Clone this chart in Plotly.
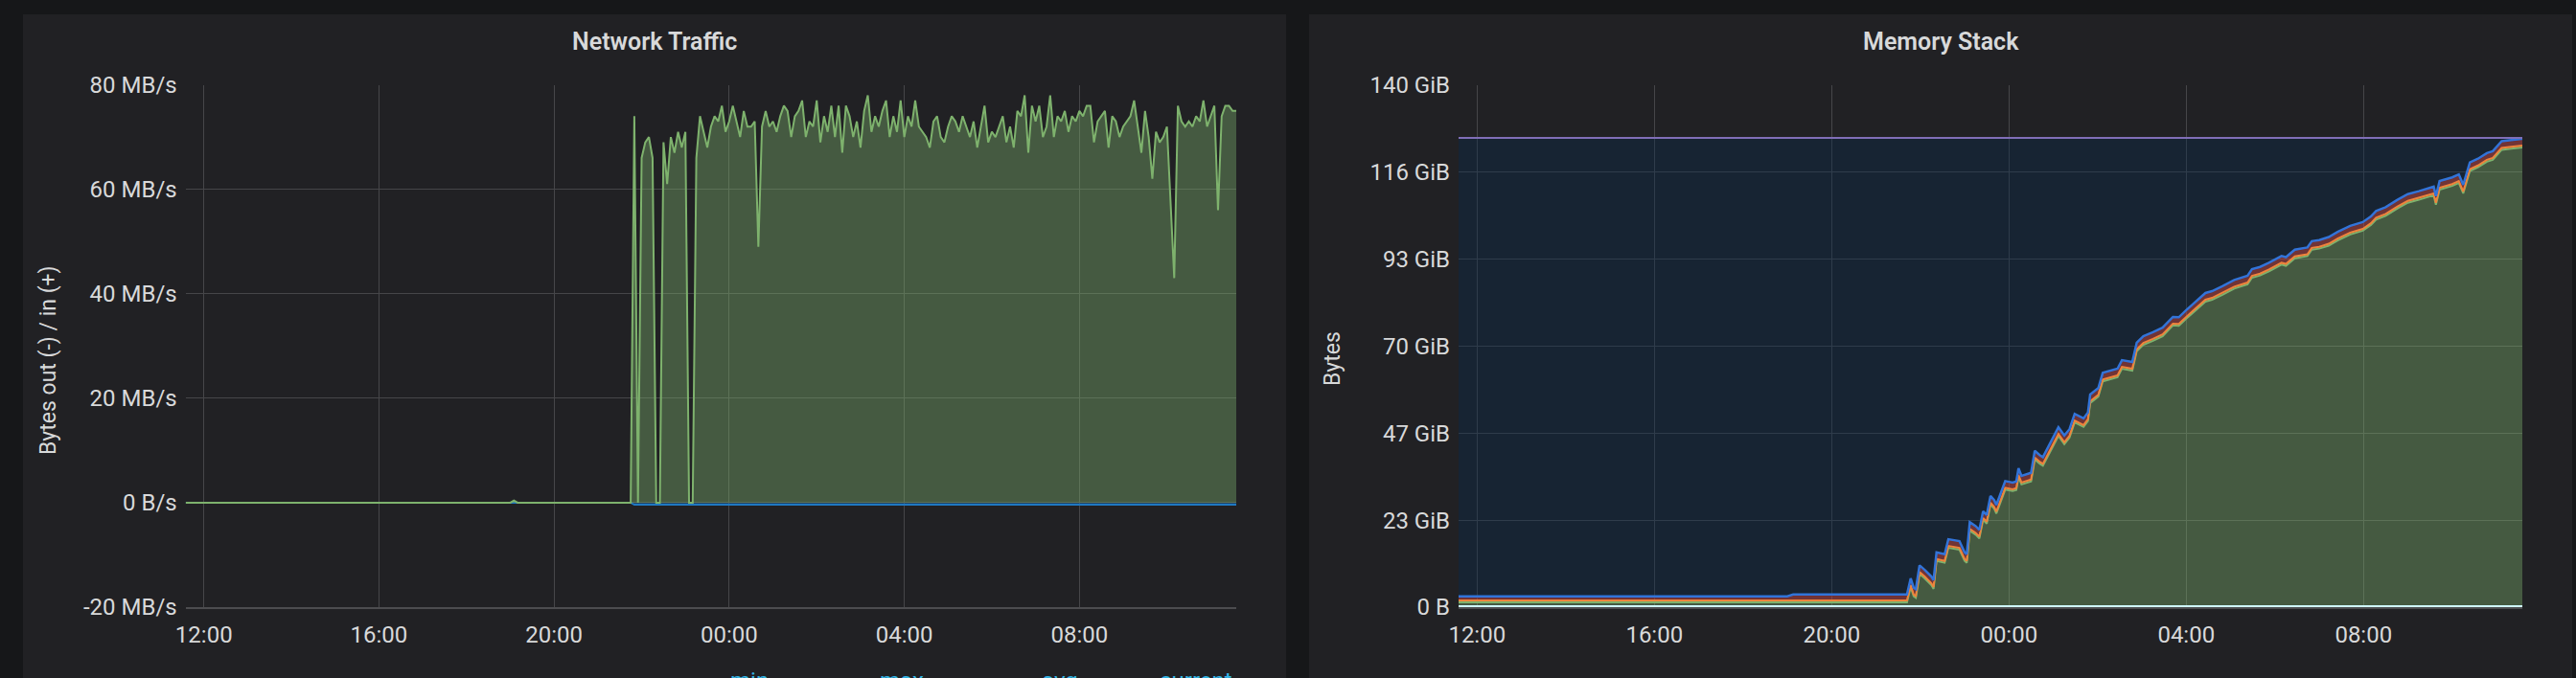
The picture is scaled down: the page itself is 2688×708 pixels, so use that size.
import numpy as np
import pandas as pd
import plotly.graph_objects as go

# ---------------- data ----------------
D1 = "2019-03-05"
D2 = "2019-03-06"
x_start = D1 + " 11:35"
x_end = D2 + " 11:35"

# Network Traffic (MB/s) - inbound, 5-minute samples from 21:45 to 11:35
net_pre_times = [D1 + " 11:35", D1 + " 19:00", D1 + " 19:05", D1 + " 19:10"]
net_pre_in = [0, 0, 0.4, 0]
net_in = [
    0, 74, 0, 66, 69, 70, 66, 0, 0, 69, 61, 70, 67, 71, 68, 71, 0, 0, 66, 74,
    71, 68, 72, 74, 73, 76, 71, 73, 76, 73, 70, 75, 72, 72, 73, 49, 72, 75, 72, 73,
    71, 74, 76, 75, 70, 74, 75, 77, 70, 73, 72, 77, 69, 74, 71, 76, 70, 76, 67, 76,
    74, 70, 73, 68, 75, 78, 71, 74, 72, 75, 77, 70, 74, 71, 77, 70, 74, 72, 77, 72,
    71, 70, 68, 73, 74, 70, 69, 72, 74, 73, 71, 74, 72, 70, 73, 68, 72, 76, 69, 71,
    70, 72, 74, 69, 72, 68, 75, 74, 78, 67, 76, 73, 76, 70, 72, 78, 70, 74, 73, 75,
    71, 74, 73, 75, 74, 76, 76, 69, 73, 74, 75, 68, 74, 73, 70, 72, 73, 74, 77, 72,
    67, 75, 70, 62, 71, 69, 70, 72, 58, 43, 76, 73, 72, 73, 72, 74, 73, 77, 72, 74,
    76, 56, 74, 76, 76, 75, 75,
]
net_out_times = [D1 + " 11:35", D1 + " 21:45", D1 + " 21:50", D2 + " 11:35"]
net_out = [0, 0, -0.4, -0.4]

# Memory Stack (GiB)
mem_clock = [
    "11:35", "19:00", "19:08", "21:42", "21:47", "21:51", "21:54", "21:59", "22:06", "22:15",
    "22:18", "22:22", "22:33", "22:38", "22:53", "23:00", "23:03", "23:07", "23:15", "23:20",
    "23:25", "23:30", "23:35", "23:40", "23:43", "23:55",
    "00:05", "00:10", "00:13", "00:17", "00:30", "00:35", "00:42", "00:46", "01:07", "01:12",
    "01:15", "01:22", "01:29", "01:41", "01:47", "01:50", "02:01", "02:07", "02:15", "02:27",
    "02:33", "02:47", "02:53", "03:02", "03:15", "03:28", "03:42", "03:50", "04:00", "04:15",
    "04:26", "04:35", "04:49", "05:05", "05:23", "05:29", "05:40", "05:52", "06:09", "06:15",
    "06:27", "06:44", "06:50", "07:00", "07:13", "07:25", "07:42", "07:59", "08:10", "08:17",
    "08:30", "08:46", "09:00", "09:15", "09:26", "09:35", "09:38", "09:43", "10:00", "10:09",
    "10:15", "10:24", "10:35", "10:47", "10:55", "11:07", "11:20", "11:35",
]
mem_day = [D1] * 26 + [D2] * 68
mem_apps = [
    1.05, 1.05, 1.05, 1.05, 5.15, 2.65, 2.25, 8.65, 7.45, 5.65,
    4.65, 12.15, 11.65, 15.65, 15.15, 12.15, 11.65, 20.25, 19.15, 18.15,
    23.15, 22.15, 27.25, 26.15, 24.85, 31.25,
    30.85, 31.15, 34.65, 32.65, 33.45, 39.35, 38.15, 37.65, 45.65, 44.15,
    43.45, 45.15, 49.25, 48.05, 49.65, 54.45, 56.15, 60.25, 60.65, 61.35,
    63.65, 63.15, 68.35, 70.05, 71.15, 72.35, 75.25, 75.15, 77.05, 79.65,
    81.65, 82.15, 83.45, 85.15, 86.25, 88.05, 88.65, 89.75, 91.55, 91.25,
    93.25, 93.85, 95.55, 95.85, 96.65, 98.05, 99.65, 100.65, 102.15, 103.65,
    104.65, 106.65, 108.15, 108.95, 109.65, 110.15, 107.65, 111.65, 112.65, 113.45,
    110.65, 116.65, 117.65, 119.15, 119.65, 122.35, 122.65, 122.95,
]
mem_slab = [
    0.25, 0.25, 0.25, 0.25, 0.25, 0.25, 0.25, 0.25, 0.25, 0.25,
    0.25, 0.25, 0.25, 0.25, 0.25, 0.25, 0.25, 0.25, 0.25, 0.25,
    0.25, 0.25, 0.25, 0.25, 0.25, 0.25,
    0.25, 0.25, 0.25, 0.25, 0.25, 0.25, 0.25, 0.25, 0.25, 0.25,
    0.25, 0.25, 0.25, 0.25, 0.25, 0.25, 0.25, 0.25, 0.25, 0.25,
    0.25, 0.25, 0.25, 0.25, 0.25, 0.25, 0.25, 0.25, 0.25, 0.25,
    0.25, 0.25, 0.25, 0.25, 0.25, 0.25, 0.25, 0.25, 0.25, 0.25,
    0.25, 0.25, 0.25, 0.25, 0.25, 0.25, 0.25, 0.25, 0.25, 0.25,
    0.25, 0.25, 0.25, 0.25, 0.25, 0.25, 0.25, 0.25, 0.25, 0.25,
    0.25, 0.25, 0.25, 0.25, 0.25, 0.25, 0.25, 0.25,
]
mem_cached = [
    0.5, 0.5, 0.5, 0.5, 0.5, 0.5, 0.5, 0.5, 0.5, 0.5,
    0.5, 0.5, 0.5, 0.5, 0.5, 0.5, 0.5, 0.5, 0.5, 0.5,
    0.5, 0.5, 0.5, 0.5, 0.5, 0.5,
    0.5, 0.5, 0.5, 0.5, 0.5, 0.5, 0.5, 0.5, 0.5, 0.5,
    0.5, 0.5, 0.5, 0.5, 0.5, 0.5, 0.5, 0.5, 0.5, 0.5,
    0.5, 0.5, 0.5, 0.5, 0.5, 0.5, 0.5, 0.5, 0.5, 0.5,
    0.5, 0.5, 0.5, 0.5, 0.5, 0.5, 0.5, 0.5, 0.5, 0.5,
    0.5, 0.5, 0.5, 0.5, 0.5, 0.5, 0.5, 0.5, 0.5, 0.5,
    0.5, 0.5, 0.5, 0.5, 0.5, 0.5, 0.5, 0.5, 0.5, 0.5,
    0.5, 0.5, 0.5, 0.5, 0.5, 0.5, 0.5, 0.5,
]
mem_buffers = [
    0.8, 0.8, 1.3, 1.3, 1.5, 1.5, 1.5, 1.5, 1.5, 1.5,
    1.5, 1.5, 1.5, 1.5, 1.5, 1.5, 1.5, 1.5, 1.5, 1.5,
    1.5, 1.5, 1.5, 1.5, 1.5, 1.5,
    1.5, 1.5, 1.5, 1.5, 1.5, 1.5, 1.5, 1.5, 1.5, 1.5,
    1.5, 1.5, 1.5, 1.5, 1.5, 1.5, 1.5, 1.5, 1.5, 1.5,
    1.5, 1.5, 1.5, 1.5, 1.5, 1.5, 1.5, 1.5, 1.5, 1.5,
    1.5, 1.5, 1.5, 1.5, 1.5, 1.5, 1.5, 1.5, 1.5, 1.5,
    1.5, 1.5, 1.5, 1.5, 1.5, 1.5, 1.5, 1.5, 1.5, 1.5,
    1.5, 1.5, 1.5, 1.5, 1.5, 1.5, 1.5, 1.5, 1.5, 1.5,
    1.5, 1.5, 1.5, 1.5, 1.5, 1.5, 1.5, 1.5,
]
mem_swap = [
    0.3, 0.3, 0.3, 0.3, 0.3, 0.3, 0.3, 0.3, 0.3, 0.3,
    0.3, 0.3, 0.3, 0.3, 0.3, 0.3, 0.3, 0.3, 0.3, 0.3,
    0.3, 0.3, 0.3, 0.3, 0.3, 0.3,
    0.3, 0.3, 0.3, 0.3, 0.3, 0.3, 0.3, 0.3, 0.3, 0.3,
    0.3, 0.3, 0.3, 0.3, 0.3, 0.3, 0.3, 0.3, 0.3, 0.3,
    0.3, 0.3, 0.3, 0.3, 0.3, 0.3, 0.3, 0.3, 0.3, 0.3,
    0.3, 0.3, 0.3, 0.3, 0.3, 0.3, 0.3, 0.3, 0.3, 0.3,
    0.3, 0.3, 0.3, 0.3, 0.3, 0.3, 0.3, 0.3, 0.3, 0.3,
    0.3, 0.3, 0.3, 0.3, 0.3, 0.3, 0.3, 0.3, 0.3, 0.3,
    0.3, 0.3, 0.3, 0.3, 0.3, 0.3, 0.3, 0.3,
]
mem_total_gib = 125.8

net_ticks = [-20, 0, 20, 40, 60, 80]
net_ticktext = ["-20 MB/s", "0 B/s", "20 MB/s", "40 MB/s", "60 MB/s", "80 MB/s"]
mem_ticks = [0, 140 / 6, 280 / 6, 70, 560 / 6, 700 / 6, 140]
mem_ticktext = ["0 B", "23 GiB", "47 GiB", "70 GiB", "93 GiB", "116 GiB", "140 GiB"]
legend_headers = ["min", "max", "avg", "current"]

# ---------------- build ----------------
W, H = 2688, 708
BG = "#161719"
PANEL = "#212124"
GRID = "#464649"
TXT = "#d8d9da"
FONT = "Roboto"


def px_x(p):
    return p / W


def px_y(p):
    return 1 - p / H


net_times = net_pre_times + [
    t.strftime("%Y-%m-%d %H:%M")
    for t in pd.date_range(D1 + " 21:45", D2 + " 11:35", freq="5min")
]
net_vals = net_pre_in + net_in

mem_times = [d + " " + c for d, c in zip(mem_day, mem_clock)]
stack_sum = (np.array(mem_slab) + np.array(mem_apps) + np.array(mem_cached)
             + np.array(mem_buffers) + np.array(mem_swap))
mem_free = np.clip(mem_total_gib - stack_sum, 0, None)

fig = go.Figure()

# ---- Network Traffic ----
fig.add_trace(go.Scatter(
    x=net_out_times, y=net_out, mode="lines", name="out",
    line=dict(color="#1f78c1", width=2), fill="tozeroy",
    fillcolor="rgba(31,120,193,0.4)", xaxis="x", yaxis="y",
))
fig.add_trace(go.Scatter(
    x=net_times, y=net_vals, mode="lines", name="in",
    line=dict(color="#7eb26d", width=2), fill="tozeroy",
    fillcolor="rgba(126,178,109,0.4)", xaxis="x", yaxis="y",
))

# ---- Memory Stack ----
layers = [
    ("Slab", mem_slab, "#cffaff", "rgba(207,250,255,0.3)", 2),
    ("Apps", mem_apps, "#7eb26d", "rgba(126,178,109,0.4)", 2),
    ("Cache", mem_cached, "#ef843c", "rgba(239,132,60,0.45)", 2),
    ("Buffers", mem_buffers, "#7a2a2a", "rgba(180,70,70,0.55)", 1),
    ("Swap", mem_swap, "#3274d9", "rgba(31,120,193,0.4)", 2.5),
    ("Free", list(mem_free), "rgba(0,0,0,0)", "rgba(5,43,81,0.35)", 0),
]
for name, vals, lc, fc, lw in layers:
    fig.add_trace(go.Scatter(
        x=mem_times, y=vals, mode="lines", name=name, stackgroup="mem",
        line=dict(color=lc, width=lw), fillcolor=fc, xaxis="x2", yaxis="y2",
    ))
fig.add_trace(go.Scatter(
    x=[x_start, x_end], y=[mem_total_gib, mem_total_gib], mode="lines", name="Total",
    line=dict(color="#806eb7", width=2), xaxis="x2", yaxis="y2",
))

# ---- layout ----
tickfont = dict(family=FONT, size=24, color=TXT)
ydom = [px_y(634), px_y(88.6)]

common_x = dict(
    type="date", range=[x_start, x_end], tickformat="%H:%M",
    tick0=D1 + " 00:00", dtick=4 * 3600 * 1000, showgrid=True, gridcolor=GRID,
    gridwidth=1, zeroline=False, tickfont=tickfont, ticks="",
    showline=True, linecolor="#4c4c4f", linewidth=2, ticklabelstandoff=6,
    automargin=False,
)
common_y = dict(
    showgrid=True, gridcolor=GRID, gridwidth=1, zeroline=False,
    tickfont=tickfont, ticks="", showline=False, ticklabelstandoff=8,
    automargin=False,
)

fig.update_layout(
    width=W, height=H, autosize=False,
    margin=dict(l=0, r=0, t=0, b=0, pad=0),
    paper_bgcolor=BG, plot_bgcolor="rgba(0,0,0,0)",
    showlegend=False,
    xaxis=dict(domain=[px_x(193.7), px_x(1290)], anchor="y", **common_x),
    yaxis=dict(domain=ydom, anchor="x", range=[-20, 80], tickvals=net_ticks,
               ticktext=net_ticktext, **common_y),
    xaxis2=dict(domain=[px_x(1522), px_x(2632)], anchor="y2", **common_x),
    yaxis2=dict(domain=ydom, anchor="x2", range=[0, 140], tickvals=mem_ticks,
                ticktext=mem_ticktext, **common_y),
    shapes=[
        dict(type="rect", xref="paper", yref="paper", layer="below",
             x0=px_x(24), x1=px_x(1342), y0=-0.01, y1=px_y(15),
             fillcolor=PANEL, line=dict(width=0)),
        dict(type="rect", xref="paper", yref="paper", layer="below",
             x0=px_x(1366), x1=px_x(2684), y0=-0.01, y1=px_y(15),
             fillcolor=PANEL, line=dict(width=0)),
    ],
)

annotations = [
    dict(text="Network Traffic", x=px_x(683), y=px_y(43), xref="paper", yref="paper",
         showarrow=False, xanchor="center", yanchor="middle",
         font=dict(family=FONT, size=25, color=TXT, weight=600)),
    dict(text="Memory Stack", x=px_x(2025), y=px_y(43), xref="paper", yref="paper",
         showarrow=False, xanchor="center", yanchor="middle",
         font=dict(family=FONT, size=25, color=TXT, weight=600)),
    dict(text="Bytes out (-) / in (+)", x=px_x(50), y=px_y(376), xref="paper", yref="paper",
         showarrow=False, xanchor="center", yanchor="middle", textangle=-90,
         font=dict(family=FONT, size=23, color=TXT)),
    dict(text="Bytes", x=px_x(1390), y=px_y(375), xref="paper", yref="paper",
         showarrow=False, xanchor="center", yanchor="middle", textangle=-90,
         font=dict(family=FONT, size=23, color=TXT)),
]
for label, xp in zip(legend_headers, [782, 941, 1106, 1248]):
    annotations.append(dict(
        text=label, x=px_x(xp), y=px_y(711), xref="paper", yref="paper",
        showarrow=False, xanchor="center", yanchor="middle",
        font=dict(family=FONT, size=24, color="#33b5e5")))
fig.update_layout(annotations=annotations)

fig.write_html(
    "out.html",
    config={"displayModeBar": False},
    post_script=(
        "document.documentElement.style.margin='0';"
        "document.body.style.margin='0';"
        "document.body.style.padding='0';"
        "document.body.style.background='#161719';"
        "document.body.style.overflow='hidden';"
    ),
)
